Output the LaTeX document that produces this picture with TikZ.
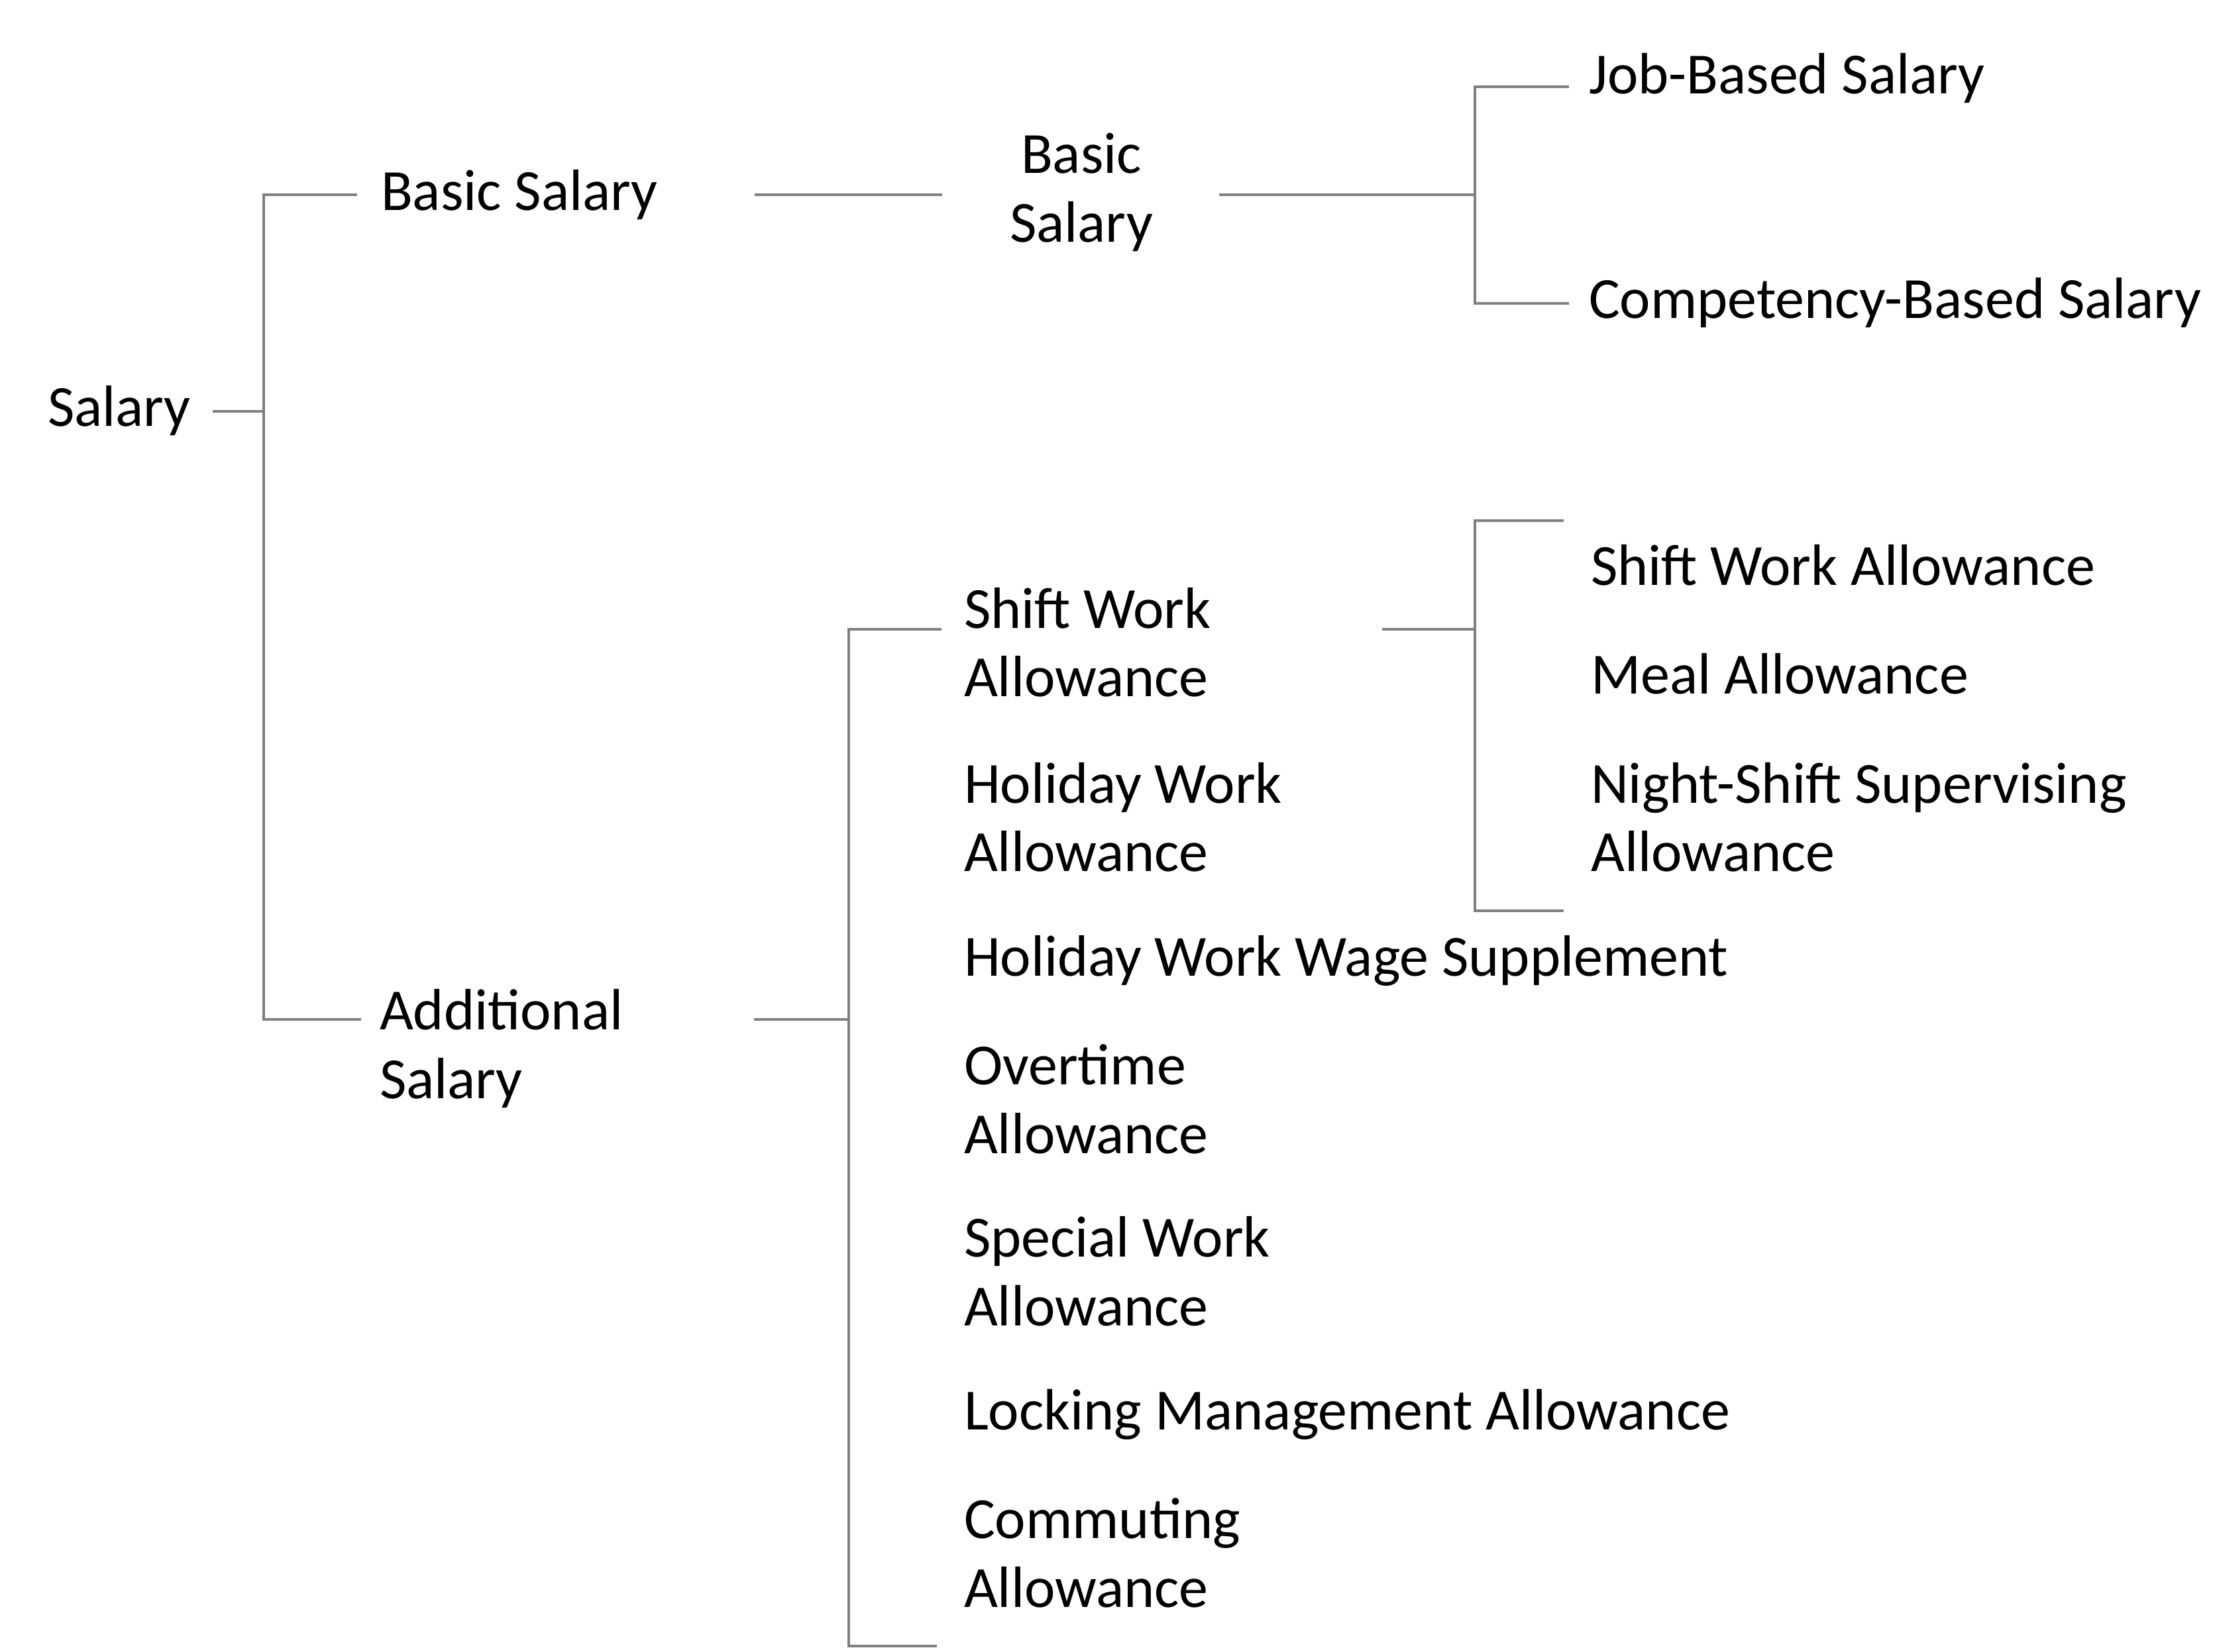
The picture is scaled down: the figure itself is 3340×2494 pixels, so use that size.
\documentclass[tikz,border=0pt]{standalone}
\usepackage{fontspec}
\setmainfont{Carlito}
\begin{document}
\begin{tikzpicture}[x=0.1pt,y=-0.1pt,
  lbl/.style={inner sep=0pt,outer sep=0pt,font=\fontsize{8.8pt}{10.4pt}\selectfont,text=black},
  lft/.style={lbl,align=left,anchor=base west},
  ctr/.style={lbl,align=center,anchor=base},
  conn/.style={draw=black!50,line width=0.34pt,line join=miter,line cap=butt}]
\useasboundingbox[fill=white] (0,0) rectangle (3340,2494);
% text nodes (base = baseline of the last line)
\node[lft] (sal) at (72,644) {Salary};
\node[lft] (bs1) at (575,318) {Basic Salary};
\node[ctr] (bs2) at (1632,366) {Basic\\Salary};
\node[lft] (job) at (2398,142) {Job-Based Salary};
\node[lft] (comp) at (2398,481) {Competency-Based Salary};
\node[lft] (add) at (573,1658) {Additional\\Salary};
\node[lft] (sw) at (1455,1052) {Shift Work\\Allowance};
\node[lft] (hw) at (1455,1316) {Holiday Work\\Allowance};
\node[lft] (hws) at (1455,1473) {Holiday Work Wage Supplement};
\node[lft] (ot) at (1455,1741) {Overtime\\Allowance};
\node[lft] (sp) at (1455,2001) {Special Work\\Allowance};
\node[lft] (lk) at (1455,2158) {Locking Management Allowance};
\node[lft] (cm) at (1455,2426) {Commuting\\Allowance};
\node[lft] (swa) at (2401,884) {Shift Work Allowance};
\node[lft] (meal) at (2401,1048) {Meal Allowance};
\node[lft] (ns) at (2401,1316) {Night-Shift Supervising\\Allowance};
% connector points
\coordinate (salR) at (321,621);
\coordinate (j1) at (398,621);
\coordinate (j1t) at (398,294);
\coordinate (j1b) at (398,1539);
\coordinate (bs1L) at (539,294);
\coordinate (addL) at (545,1539);
\coordinate (bs1R) at (1139,294);
\coordinate (bs2L) at (1422,294);
\coordinate (bs2R) at (1840,294);
\coordinate (j2) at (2226,294);
\coordinate (j2t) at (2226,131);
\coordinate (j2b) at (2226,458);
\coordinate (jobL) at (2368,131);
\coordinate (compL) at (2368,458);
\coordinate (addR) at (1138,1539);
\coordinate (j3) at (1281,1539);
\coordinate (j3t) at (1281,950);
\coordinate (j3b) at (1281,2485);
\coordinate (swL) at (1421,950);
\coordinate (endL) at (1414,2485);
\coordinate (swR) at (2086,950);
\coordinate (j4) at (2226,950);
\coordinate (j4t) at (2226,786);
\coordinate (j4b) at (2226,1375);
\coordinate (topL) at (2360,786);
\coordinate (botL) at (2360,1375);
% connectors
\draw[conn] (salR) -- (j1);
\draw[conn] (bs1L) -- (j1t) -- (j1b) -- (addL);
\draw[conn] (bs1R) -- (bs2L);
\draw[conn] (bs2R) -- (j2);
\draw[conn] (jobL) -- (j2t) -- (j2b) -- (compL);
\draw[conn] (addR) -- (j3);
\draw[conn] (swL) -- (j3t) -- (j3b) -- (endL);
\draw[conn] (swR) -- (j4);
\draw[conn] (topL) -- (j4t) -- (j4b) -- (botL);
\end{tikzpicture}
\end{document}
